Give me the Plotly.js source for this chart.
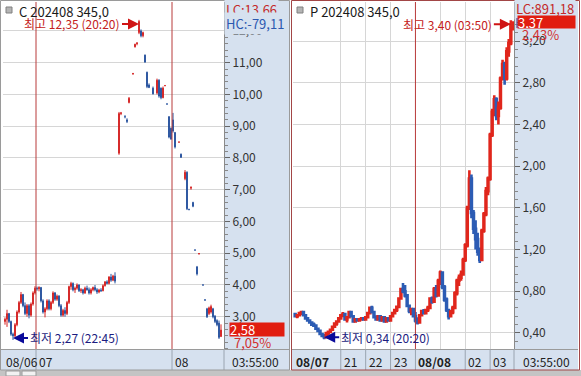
<!DOCTYPE html>
<html><head><meta charset="utf-8">
<script src="https://cdn.plot.ly/plotly-3.0.1.min.js"></script>
<style>html,body{margin:0;padding:0;background:#fff;overflow:hidden}#chart{width:581px;height:376px}</style>
</head><body><div id="chart"></div>
<script>
// ---------- DATA ----------
const leftTitle = 'C 202408 345,0';
const rightTitle = 'P 202408 345,0';
const leftInfo = ['LC:13,66', 'HC:-79,11', '7,05%'];
const rightInfo = ['LC:891,18', 'HC:', '2,43%'];
const leftHiTime = '20:20', leftLoTime = '22:45';
const rightHiTime = '03:50', rightLoTime = '20:20';

// left (call) : bar slot index (time bucket), OHLC
const lSlot = [0,1,2,3,4,5,6,7,8,9,10,11,12,13,14,15,16,17,18,19,20,21,22,23,24,25,26,27,28,29,30,31,32,33,34,35,36,37,38,39,40,41,42,43,44,45,46,47,48,49,50,51,52,53,54,55,
  57,58,60,61,62,64,65,66,67,68,69,70,71,72,74,76,77,78,79,80,81,82,83,84,85,87,88,90,91,92,93,94,95,96,97,99,100,101,102,103,104,105,106,107,108];
const lOpen = [2.85,2.92,3.10,2.85,2.45,2.40,2.75,3.15,3.45,3.70,3.35,3.10,3.35,3.05,3.40,3.75,3.90,3.88,3.92,3.50,3.15,3.25,3.50,3.25,3.45,3.75,3.55,3.65,3.35,3.05,3.20,3.10,3.45,3.95,4.05,3.85,3.90,4.00,3.82,3.85,3.75,3.90,3.85,3.75,3.85,3.92,3.85,3.78,3.84,3.82,3.98,4.10,4.05,4.25,4.15,4.28,
  8.15,9.40,9.30,9.20,9.75,10.65,11.50,11.60,11.95,12.00,11.85,11.24,10.70,10.30,10.20,10.05,10.45,10.20,9.90,10.28,9.70,9.30,8.94,9.20,8.80,8.50,8.12,7.35,7.55,6.38,7.05,6.60,5.10,4.57,4.98,4.00,3.53,3.25,3.10,3.15,3.25,3.02,2.88,2.80,2.38];
const lHigh = [2.98,3.22,3.12,2.88,2.50,2.80,3.20,3.50,3.78,3.72,3.45,3.40,3.40,3.45,3.80,3.96,3.95,3.96,3.94,3.55,3.30,3.55,3.55,3.50,3.80,3.78,3.70,3.68,3.40,3.25,3.30,3.50,3.98,4.10,4.08,3.95,4.05,4.02,3.90,3.88,3.95,3.98,3.92,3.90,3.95,4.00,3.90,3.88,3.90,4.02,4.12,4.15,4.28,4.35,4.32,4.40,
  9.45,9.45,9.35,9.25,9.92,10.68,11.60,11.65,12.35,12.05,11.98,11.26,10.72,10.35,10.25,10.50,10.48,10.22,10.25,10.30,9.72,9.32,8.96,9.42,8.82,8.52,8.14,7.62,7.58,6.40,7.10,6.62,5.12,4.60,5.00,4.02,3.55,3.28,3.32,3.38,3.28,3.05,2.92,2.88,2.76];
const lLow = [2.75,2.68,2.80,2.40,2.27,2.36,2.70,3.10,3.40,3.30,3.05,3.00,2.95,3.00,3.35,3.70,3.82,3.80,3.45,3.10,2.98,3.20,3.20,3.20,3.40,3.50,3.50,3.30,3.00,3.00,3.00,3.05,3.40,3.85,3.80,3.75,3.85,3.78,3.75,3.70,3.72,3.82,3.70,3.70,3.80,3.80,3.72,3.74,3.78,3.80,3.95,4.02,4.02,4.10,4.12,4.05,
  8.10,9.35,9.25,9.10,9.72,10.62,11.48,11.55,11.90,11.80,11.80,11.00,10.20,10.20,10.00,10.00,9.90,9.85,9.88,10.26,9.68,8.62,8.57,8.80,8.30,8.48,8.00,7.30,6.36,6.35,7.00,6.45,5.08,4.30,4.96,3.98,3.50,2.96,3.05,3.10,2.95,2.80,2.70,2.30,2.36];
const lClose = [2.92,3.10,2.85,2.45,2.40,2.75,3.15,3.45,3.70,3.35,3.10,3.35,3.05,3.40,3.75,3.90,3.88,3.92,3.50,3.15,3.25,3.50,3.25,3.45,3.75,3.55,3.65,3.35,3.05,3.20,3.10,3.45,3.95,4.05,3.85,3.90,4.00,3.82,3.85,3.75,3.90,3.85,3.75,3.85,3.92,3.85,3.78,3.84,3.82,3.98,4.10,4.05,4.25,4.15,4.28,4.12,
  9.40,9.42,9.30,9.15,9.88,10.66,11.58,11.62,12.30,11.85,11.95,11.02,10.25,10.22,10.02,10.45,9.95,9.90,10.20,10.28,9.70,8.66,8.60,8.85,8.35,8.50,8.02,7.55,6.40,6.38,7.08,6.48,5.10,4.35,4.99,4.00,3.53,3.00,3.28,3.32,3.00,2.85,2.75,2.35,2.58];

// right (put) : 5-minute bars from 19:10 (08/07) to 03:55 (08/08)
const rStart = '19:10', rStepMin = 5;
const rOpen = [0.58,0.56,0.57,0.59,0.60,0.57,0.54,0.52,0.50,0.48,
 0.47,0.44,0.42,0.39,0.38,0.36,0.40,0.41,0.43,0.46,
 0.49,0.51,0.54,0.57,0.58,0.53,0.55,0.60,0.56,0.51,
 0.53,0.52,0.53,0.54,0.53,0.55,0.59,0.64,0.60,0.55,
 0.53,0.56,0.52,0.55,0.51,0.54,0.52,0.56,0.59,0.62,
 0.65,0.73,0.82,0.80,0.76,0.66,0.61,0.63,0.56,0.52,
 0.50,0.57,0.61,0.59,0.62,0.64,0.73,0.70,0.82,0.76,
 0.90,0.98,0.84,0.72,0.62,0.56,0.60,0.64,0.78,0.90,
 0.93,0.96,1.10,1.24,1.60,1.88,1.55,1.40,1.30,1.18,
 1.10,1.38,1.54,1.76,1.88,2.30,2.52,2.64,2.48,2.56,
 2.84,2.98,2.84,3.10,3.18,3.36];
const rHigh = [0.59,0.58,0.60,0.61,0.61,0.58,0.55,0.53,0.51,0.50,
 0.48,0.45,0.43,0.40,0.39,0.41,0.42,0.44,0.47,0.50,
 0.52,0.55,0.58,0.60,0.59,0.56,0.61,0.61,0.57,0.54,
 0.54,0.54,0.55,0.55,0.56,0.60,0.65,0.66,0.61,0.57,
 0.57,0.57,0.56,0.56,0.55,0.55,0.57,0.60,0.63,0.66,
 0.74,0.83,0.88,0.86,0.77,0.67,0.64,0.64,0.60,0.55,
 0.58,0.62,0.63,0.63,0.66,0.74,0.75,0.84,0.86,0.92,
 1.00,0.99,0.86,0.74,0.63,0.62,0.66,0.80,0.92,0.96,
 1.00,1.12,1.26,1.62,1.96,1.92,1.58,1.48,1.36,1.22,
 1.40,1.56,1.80,1.90,2.32,2.55,2.68,2.66,2.62,2.86,
 3.02,3.00,3.14,3.22,3.40,3.39];
const rLow = [0.55,0.54,0.56,0.57,0.56,0.53,0.51,0.49,0.47,0.46,
 0.43,0.41,0.38,0.36,0.34,0.35,0.38,0.40,0.42,0.45,
 0.47,0.50,0.53,0.55,0.52,0.50,0.54,0.55,0.50,0.50,
 0.51,0.51,0.52,0.52,0.52,0.54,0.58,0.59,0.54,0.52,
 0.52,0.51,0.51,0.50,0.50,0.51,0.51,0.55,0.58,0.60,
 0.64,0.72,0.78,0.74,0.65,0.59,0.57,0.55,0.50,0.48,
 0.49,0.56,0.58,0.58,0.60,0.63,0.68,0.69,0.74,0.75,
 0.86,0.82,0.70,0.60,0.53,0.55,0.58,0.63,0.76,0.85,
 0.90,0.95,1.08,1.22,1.58,1.50,1.35,1.20,1.14,1.07,
 1.09,1.36,1.52,1.72,1.86,2.28,2.48,2.44,2.40,2.54,
 2.82,2.78,2.82,3.05,3.16,3.30];
const rClose = [0.56,0.57,0.59,0.60,0.57,0.54,0.52,0.50,0.48,0.47,
 0.44,0.42,0.39,0.37,0.36,0.40,0.41,0.43,0.46,0.49,
 0.51,0.54,0.57,0.58,0.53,0.55,0.60,0.56,0.51,0.53,
 0.52,0.53,0.54,0.53,0.55,0.59,0.64,0.60,0.55,0.53,
 0.56,0.52,0.55,0.51,0.54,0.52,0.56,0.59,0.62,0.65,
 0.73,0.82,0.80,0.76,0.66,0.61,0.63,0.56,0.52,0.50,
 0.57,0.61,0.59,0.62,0.64,0.73,0.70,0.82,0.76,0.90,
 0.98,0.84,0.72,0.62,0.56,0.60,0.64,0.78,0.90,0.93,
 0.96,1.10,1.24,1.60,1.88,1.55,1.40,1.30,1.18,1.10,
 1.38,1.54,1.76,1.88,2.30,2.52,2.64,2.48,2.56,2.84,
 2.98,2.84,3.10,3.18,3.36,3.37];

// tick values / labels
const lTickVals = [3,4,5,6,7,8,9,10,11,12];
const rTickVals = [0.4,0.8,1.2,1.6,2.0,2.4,2.8,3.2];
const lDayLabels = ['08/06','07','08'];
const lDaySlots = [-1, 15.5, 83.5];          // slot where each day starts
const rTimeLabels = ['<b>08/07</b>','21','22','23','<b>08/08</b>','02','03'];
const rTimeHours = [1.08, 3, 4, 5, 6, 8, 9];  // hours after 18:00 on 08/07
const rGridHours = [3, 4, 5, 7, 8, 9];
const rDayBreak = 6;                           // 00:00 08/08
const lastTimeLabel = '03:55:00';

// ---------- BUILD ----------
const W = 581, H = 376;
const px = x => x / W;
const py = y => 1 - y / H;
const FONT = '"Noto Sans CJK KR", "Liberation Sans", sans-serif';
const BAND = '#d6e1ef';
const fmt = v => v.toFixed(2).replace('.', ',');

const [sh, sm] = rStart.split(':').map(Number);
const rX = rOpen.map((_, i) => (sh * 60 + sm + i * rStepMin) / 60 - 18);

const traces = [
  {type:'candlestick', xaxis:'x', yaxis:'y', x:lSlot, open:lOpen, high:lHigh, low:lLow, close:lClose,
   increasing:{line:{color:'#d42222', width:1}, fillcolor:'#d42222'},
   decreasing:{line:{color:'#27529e', width:1}, fillcolor:'#27529e'},
   whiskerwidth:0, hoverinfo:'skip', showlegend:false},
  {type:'candlestick', xaxis:'x2', yaxis:'y2', x:rX, open:rOpen, high:rHigh, low:rLow, close:rClose,
   increasing:{line:{color:'#e0261c', width:2.6}, fillcolor:'#e0261c'},
   decreasing:{line:{color:'#2c5cb4', width:2.6}, fillcolor:'#2c5cb4'},
   whiskerwidth:0, hoverinfo:'skip', showlegend:false}
];

const yCommon = {
  side:'right', tickformat:'.2f', ticks:'outside', ticklen:5, tickcolor:'#666',
  showline:true, linecolor:'#8a8a8a', linewidth:1, gridcolor:'#d6d6d6', gridwidth:1,
  zeroline:false, fixedrange:true, tickfont:{family:FONT, size:12, color:'#333'},
  tickmode:'array'
};
const layout = {
  width:W, height:H, margin:{l:0,r:0,t:0,b:0},
  paper_bgcolor:'#ffffff', plot_bgcolor:'#ffffff', showlegend:false,
  separators:', ', boxgap:0.4, dragmode:false,
  font:{family:FONT, size:12, color:'#222'},
  xaxis:{domain:[px(3),px(224)], range:[-1,109.5], showgrid:false, zeroline:false, showticklabels:false,
         ticks:'', rangeslider:{visible:false}, fixedrange:true, anchor:'y'},
  yaxis:Object.assign({}, yCommon, {domain:[py(349),py(2)], range:[1.984,12.913], anchor:'x',
         tickvals:lTickVals, minor:{tickmode:'linear', tick0:0, dtick:0.2, ticks:'outside', ticklen:3, tickcolor:'#888', showgrid:false}}),
  xaxis2:{domain:[px(293),px(514)], range:[1.08,9.96], showgrid:true, gridcolor:'#d6d6d6', tickmode:'array',
          tickvals:rGridHours, showticklabels:false, ticks:'', zeroline:false, rangeslider:{visible:false}, fixedrange:true, anchor:'y2'},
  yaxis2:Object.assign({}, yCommon, {domain:[py(349),py(2)], range:[0.246,3.574], anchor:'x2',
         tickvals:rTickVals, minor:{tickmode:'linear', tick0:0, dtick:0.08, ticks:'outside', ticklen:3, tickcolor:'#888', showgrid:false}}),
  shapes:[], annotations:[]
};

const S = layout.shapes, A = layout.annotations;
const rect = (x0,y0,x1,y1,fill,line,layer) => S.push({type:'rect', xref:'paper', yref:'paper',
  x0:px(x0), x1:px(x1), y0:py(y1), y1:py(y0), fillcolor:fill||'rgba(0,0,0,0)',
  line:{color:line||'rgba(0,0,0,0)', width:line?1:0}, layer:layer||'below'});
// bands
rect(224,1,289,370,BAND);
rect(1,349,289,370,BAND);
rect(514,1,578,370,BAND);
rect(292,349,578,370,BAND);
rect(0,370,581,376,'#c4c4c4');
rect(6,371,20,376,'#f2f2f2','#999');
rect(22,371,36,376,'#f2f2f2','#999');
// band separators
S.push({type:'line', xref:'paper', yref:'paper', x0:px(1), x1:px(289), y0:py(349.5), y1:py(349.5), line:{color:'#9a9a9a', width:1}});
S.push({type:'line', xref:'paper', yref:'paper', x0:px(292), x1:px(578), y0:py(349.5), y1:py(349.5), line:{color:'#9a9a9a', width:1}});
[15.5, 83.5].forEach(s => S.push({type:'line', xref:'x', yref:'paper', x0:s, x1:s, y0:py(370), y1:py(349), line:{color:'#9aa4b0', width:1}}));
S.push({type:'line', xref:'paper', yref:'paper', x0:px(224), x1:px(224), y0:py(370), y1:py(349), line:{color:'#9aa4b0', width:1}});
rTimeHours.slice(1).forEach(h => S.push({type:'line', xref:'x2', yref:'paper', x0:h, x1:h, y0:py(370), y1:py(349), line:{color:'#9aa4b0', width:1}}));
S.push({type:'line', xref:'paper', yref:'paper', x0:px(514), x1:px(514), y0:py(370), y1:py(349), line:{color:'#9aa4b0', width:1}});
// day separators (red)
[15.5, 83.5].forEach(s => S.push({type:'line', xref:'x', yref:'paper', x0:s, x1:s, y0:py(349), y1:py(2), line:{color:'#b83a3a', width:1}, layer:'above'}));
S.push({type:'line', xref:'x2', yref:'paper', x0:rDayBreak, x1:rDayBreak, y0:py(349), y1:py(2), line:{color:'#b83a3a', width:1}, layer:'above'});
// frames
rect(0.5,0.5,289.5,370,null,'#9a9a9a','above');
rect(291.5,0.5,579.5,370,null,'#a24646','above');
// header icons
rect(6,7,12,13,'#b4b4b4','#808080','above');
rect(297,7,303,13,'#b4b4b4','#808080','above');

const txt = (x, y, text, color, size, extra) => A.push(Object.assign({xref:'paper', yref:'paper', x:px(x), y:py(y),
  text, showarrow:false, xanchor:'left', yanchor:'middle', font:{family:FONT, size:size||12, color:color||'#222'}}, extra||{}));

// titles
txt(17, 11, leftTitle, '#1a1a1a', 13);
txt(308, 11, rightTitle, '#1a1a1a', 13);
// left info
txt(224, 10, leftInfo[0], '#c42a2a', 13, {bgcolor:BAND});
txt(224, 23, leftInfo[1], '#2b58b0', 13, {bgcolor:BAND});
A.push({xref:'paper', yref:'y', x:px(229), y:lClose[lClose.length-1], yshift:1, text:fmt(lClose[lClose.length-1]), showarrow:false,
  xanchor:'left', yanchor:'middle', width:54, height:13, align:'left', bgcolor:'#e11d10', borderpad:0,
  font:{family:FONT, size:13, color:'#ffffff'}});
txt(232, 342, leftInfo[2], '#d23030', 13);
// right info
txt(514, 9, rightInfo[0], '#c42a2a', 13, {bgcolor:BAND});
txt(513, 22, rightInfo[1], '#2b58b0', 13);
A.push({xref:'paper', yref:'y2', x:px(517), y:rClose[rClose.length-1], yshift:1, text:fmt(rClose[rClose.length-1]), showarrow:false,
  xanchor:'left', yanchor:'middle', width:57, height:12, align:'left', bgcolor:'#e11d10', borderpad:0,
  font:{family:FONT, size:13, color:'#ffffff'}});
txt(520, 34, rightInfo[2], '#d23030', 13);

// high / low markers
const hiLo = (xa, ya, xs, highs, lows, hiT, loT) => {
  const hv = Math.max(...highs), lv = Math.min(...lows);
  const hi = highs.indexOf(hv), li = lows.indexOf(lv);
  A.push({xref:xa, yref:ya, x:xs[hi], y:hv, yshift:-4, ax:-17, ay:0, showarrow:true, arrowhead:2, arrowsize:1.1,
    arrowwidth:2, arrowcolor:'#d01414', xanchor:'right', yanchor:'middle', text:'최고 ' + fmt(hv) + ' (' + hiT + ')',
    font:{family:FONT, size:12, color:'#c42020'}});
  A.push({xref:xa, yref:ya, x:xs[li], y:lv, yshift:2, ax:15, ay:0, showarrow:true, arrowhead:2, arrowsize:1.1,
    arrowwidth:2, arrowcolor:'#0a0a9a', xanchor:'left', yanchor:'middle', text:'최저 ' + fmt(lv) + ' (' + loT + ')',
    font:{family:FONT, size:12, color:'#1c1c80'}});
};
hiLo('x','y', lSlot, lHigh, lLow, leftHiTime, leftLoTime);
hiLo('x2','y2', rX, rHigh, rLow, rightHiTime, rightLoTime);

// bottom labels
lDayLabels.forEach((t, i) => A.push({xref:'x', yref:'paper', x:lDaySlots[i], xshift:1, y:py(361), text:t, showarrow:false,
  xanchor:'left', yanchor:'middle', font:{family:FONT, size:12, color:'#222'}}));
rTimeLabels.forEach((t, i) => A.push({xref:'x2', yref:'paper', x:rTimeHours[i], xshift:1, y:py(361), text:t, showarrow:false,
  xanchor:'left', yanchor:'middle', font:{family:FONT, size:12, color:'#222'}}));
txt(230, 361, lastTimeLabel, '#222', 12);
txt(521, 361, lastTimeLabel, '#222', 12);

Plotly.newPlot('chart', traces, layout, {staticPlot:true, displayModeBar:false});
</script>
</body></html>
